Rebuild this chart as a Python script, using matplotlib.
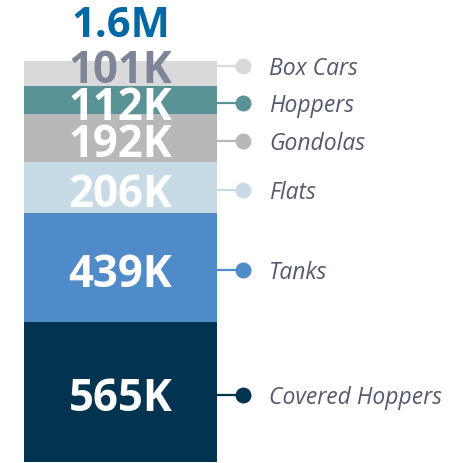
import matplotlib.pyplot as plt

# данные: снизу вверх
categories = ['Covered Hoppers', 'Tanks', 'Flats', 'Gondolas', 'Hoppers', 'Box Cars']
values = [565, 439, 206, 192, 112, 101]          # тыс. вагонов
value_labels = ['565K', '439K', '206K', '192K', '112K', '101K']
total_label = '1.6M'

colors = ['#023350', '#4f8ac9', '#c7dbe6', '#b8b8b8', '#5a9396', '#d9d9d9']
label_colors = ['white', 'white', 'white', 'white', 'white', '#7f8598']

fig = plt.figure(figsize=(4.6, 4.64), dpi=100)
ax = fig.add_axes([0, 0, 1, 1])
y0, y1 = -4, 1865
ax.set_xlim(0, 460)
ax.set_ylim(y0, y1)
ax.axis('off')

PX = 72 / 100                      # пиксели -> пункты
K_PER_PX = (y1 - y0) / 464         # единицы данных на пиксель
MIN_GAP = 37 * K_PER_PX            # минимальный шаг между подписями

bar_x, bar_w = 120.5, 193
right = bar_x + bar_w / 2
bottom = 0
prev = None
for cat, val, lab, col, lcol in zip(categories, values, value_labels, colors, label_colors):
    ax.bar(bar_x, val, width=bar_w, bottom=bottom, color=col, linewidth=0)
    # центр подписи: чуть ниже середины сегмента, но не ближе MIN_GAP к предыдущей
    yc = bottom + val / 2 - 3 * K_PER_PX
    if prev is not None and yc < prev + MIN_GAP:
        yc = prev + MIN_GAP
    prev = yc
    ax.annotate(lab, (bar_x, yc), xytext=(0, -15.5 * PX), textcoords='offset points',
                ha='center', va='baseline', fontsize=31.5, fontweight='bold',
                family='Open Sans', color=lcol, zorder=3)
    # линия-выноска с кружком и подпись категории
    ax.plot([right, right + 26], [yc, yc], color=col, lw=1.6, zorder=2)
    ax.plot(right + 26, yc, 'o', ms=11.5, color=col, mec='none', zorder=2)
    ax.annotate(cat, (right + 52, yc), xytext=(0, -8 * PX), textcoords='offset points',
                ha='left', va='baseline', fontsize=16.5, style='italic',
                family='Open Sans', color='#555b6e')
    bottom += val

# итог сверху
ax.annotate(total_label, (bar_x, bottom), xytext=(0, 25 * PX), textcoords='offset points',
            ha='center', va='baseline', fontsize=30, fontweight='bold',
            family='Open Sans', color='#0068a5')

fig.savefig('out.png', dpi=100)
